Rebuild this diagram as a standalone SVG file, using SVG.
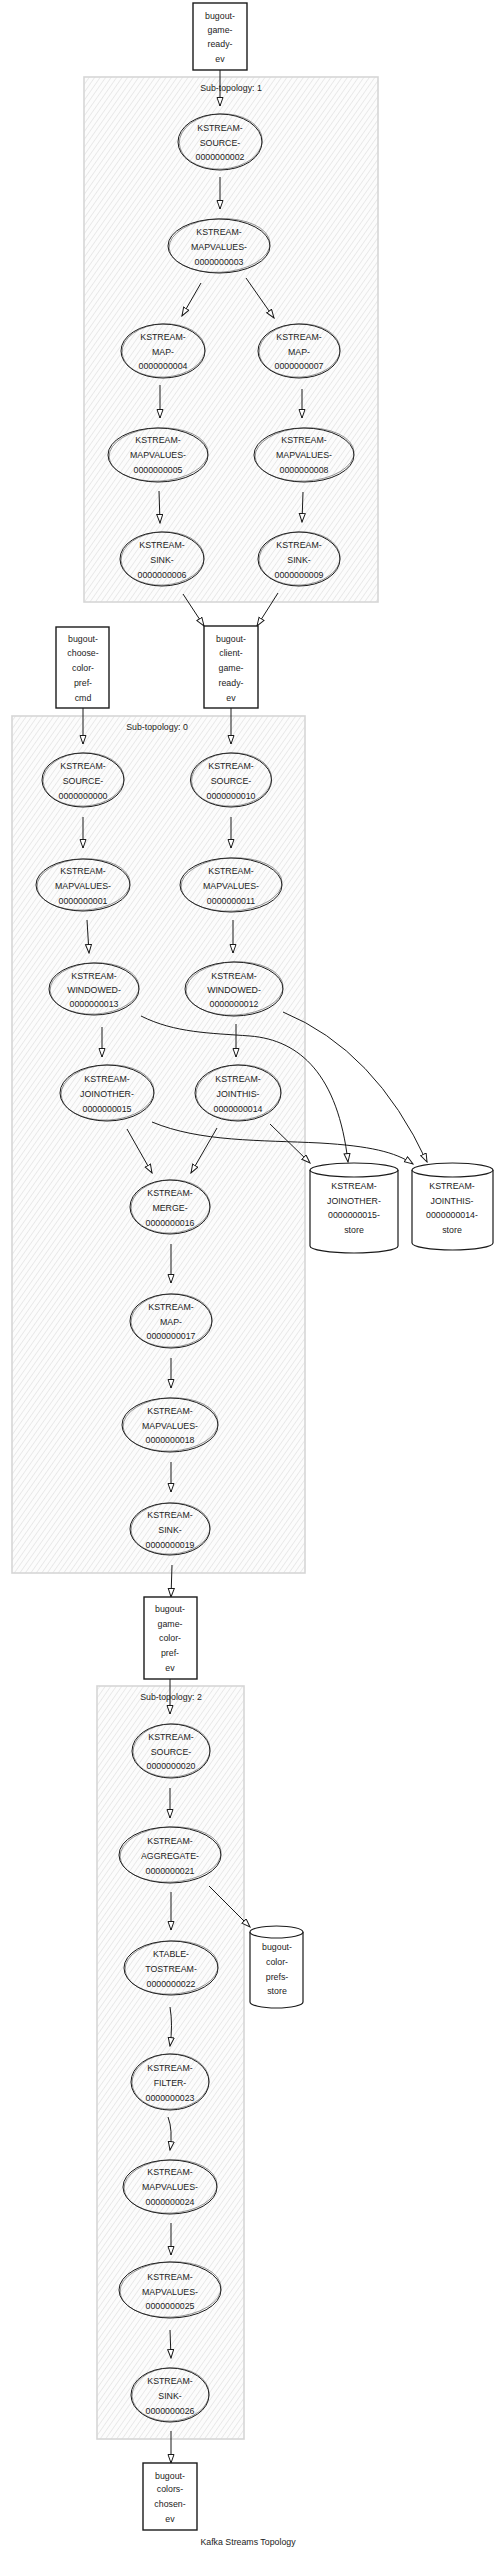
<svg xmlns="http://www.w3.org/2000/svg" width="496" height="2555" viewBox="0 0 496 2555">
<style>
text{font-family:"Liberation Sans",Arial,sans-serif;font-size:8.8px;fill:#222;text-anchor:middle}
.cl{fill:url(#hatch);stroke:#d6d6d6;stroke-width:1.6}
.e1{fill:none;stroke:#1a1a1a;stroke-width:1}
.e2{fill:none;stroke:#333;stroke-width:0.5}
.bx{fill:#fff;stroke:#1a1a1a;stroke-width:1.4}
.cy{fill:#fff;stroke:#1a1a1a;stroke-width:1.2}
.ed{fill:none;stroke:#1a1a1a;stroke-width:1;marker-end:url(#ah)}
</style>
<defs>
<pattern id="hatch" width="4.5" height="4.5" patternUnits="userSpaceOnUse" patternTransform="rotate(35)">
<rect width="4.5" height="4.5" fill="#fcfcfc"/>
<line x1="0" y1="0" x2="0" y2="4.5" stroke="#c8c8c8" stroke-width="0.7"/>
</pattern>
<marker id="ah" markerWidth="10" markerHeight="8" refX="9" refY="3.5" orient="auto" markerUnits="userSpaceOnUse">
<path d="M0.5,0.5 L9,3.5 L0.5,6.5 Z" fill="#fff" stroke="#1a1a1a" stroke-width="1"/>
</marker>
</defs>
<rect width="496" height="2555" fill="#fff"/>

<g id="cluster1"><rect class="cl" x="84" y="77" width="294" height="525"/><text x="231" y="91">Sub-topology: 1</text></g>
<g id="cluster0"><rect class="cl" x="12" y="716" width="293" height="857"/><text x="157" y="730">Sub-topology: 0</text></g>
<g id="cluster2"><rect class="cl" x="97" y="1686" width="147" height="753"/><text x="171" y="1700">Sub-topology: 2</text></g>

<g id="connectors">
<path class="ed" d="M220,70 L220,106"/>
<path class="ed" d="M220,177 L220,209"/>
<path class="ed" d="M201,283 L182,316"/>
<path class="ed" d="M246,278 L274,318"/>
<path class="ed" d="M160,385 L160,418"/>
<path class="ed" d="M302,389 L302,418"/>
<path class="ed" d="M159,491 L160,523"/>
<path class="ed" d="M303,492 L302,522"/>
<path class="ed" d="M183,594 L204,626"/>
<path class="ed" d="M278,593 L257,626"/>
<path class="ed" d="M83,708 L83,744"/>
<path class="ed" d="M231,708 L231,744"/>
<path class="ed" d="M83,817 L83,848"/>
<path class="ed" d="M231,817 L231,848"/>
<path class="ed" d="M87,920 L89,953"/>
<path class="ed" d="M233,920 L233,953"/>
<path class="ed" d="M102,1027 L102,1057"/>
<path class="ed" d="M236,1024 L236,1057"/>
<path class="ed" d="M141,1016 C175,1033 210,1033 250,1036 C300,1040 338,1075 348,1162"/>
<path class="ed" d="M283,1012 Q375,1050 427,1162"/>
<path class="ed" d="M127,1129 L152,1173"/>
<path class="ed" d="M217,1128 L191,1173"/>
<path class="ed" d="M152,1122 C200,1142 260,1140 320,1143 C370,1146 395,1152 413,1164"/>
<path class="ed" d="M270,1124 L310,1163"/>
<path class="ed" d="M171,1244 L171,1283"/>
<path class="ed" d="M171,1358 L171,1388"/>
<path class="ed" d="M171,1462 L171,1492"/>
<path class="ed" d="M172,1565 L171,1597"/>
<path class="ed" d="M170,1679 L170,1714"/>
<path class="ed" d="M170,1788 L170,1818"/>
<path class="ed" d="M171,1892 L171,1930"/>
<path class="ed" d="M209,1886 L250,1927"/>
<path class="ed" d="M170,2007 Q173,2025 170,2046"/>
<path class="ed" d="M168,2117 Q173,2130 170,2150"/>
<path class="ed" d="M171,2223 L171,2255"/>
<path class="ed" d="M170,2330 L171,2358"/>
<path class="ed" d="M171,2431 L171,2463"/>
</g>

<g id="t-game-ready"><rect class="bx" x="193" y="3" width="54" height="67"/><text x="220" y="19">bugout-</text><text x="220" y="33">game-</text><text x="220" y="47">ready-</text><text x="220" y="62">ev</text></g>
<g id="t-client-game-ready"><rect class="bx" x="204" y="626" width="54" height="82"/><text x="231" y="642">bugout-</text><text x="231" y="656">client-</text><text x="231" y="671">game-</text><text x="231" y="686">ready-</text><text x="231" y="701">ev</text></g>
<g id="t-choose-color"><rect class="bx" x="56" y="627" width="53" height="81"/><text x="83" y="642">bugout-</text><text x="83" y="656">choose-</text><text x="83" y="671">color-</text><text x="83" y="686">pref-</text><text x="83" y="701">cmd</text></g>
<g id="t-game-color-pref"><rect class="bx" x="144" y="1597" width="53" height="82"/><text x="170" y="1612">bugout-</text><text x="170" y="1627">game-</text><text x="170" y="1641">color-</text><text x="170" y="1656">pref-</text><text x="170" y="1671">ev</text></g>
<g id="t-colors-chosen"><rect class="bx" x="143" y="2463" width="54" height="67"/><text x="170" y="2479">bugout-</text><text x="170" y="2492">colors-</text><text x="170" y="2507">chosen-</text><text x="170" y="2522">ev</text></g>

<g id="n-source-2"><ellipse class="e1" cx="220" cy="142" rx="42" ry="28"/><ellipse class="e2" cx="220.8" cy="141.5" rx="41.5" ry="27.6" transform="rotate(-3 220 142)"/><text x="220" y="131">KSTREAM-</text><text x="220" y="145.5">SOURCE-</text><text x="220" y="160">0000000002</text></g>
<g id="n-mapvalues-3"><ellipse class="e1" cx="219" cy="246" rx="51" ry="27"/><ellipse class="e2" cx="219.6" cy="245.5" rx="50.5" ry="26.8" transform="rotate(-3 219 246)"/><text x="219" y="235">KSTREAM-</text><text x="219" y="250">MAPVALUES-</text><text x="219" y="265">0000000003</text></g>
<g id="n-map-4"><ellipse class="e1" cx="163" cy="351" rx="42" ry="27"/><ellipse class="e2" cx="163.6" cy="350.5" rx="41.5" ry="26.6" transform="rotate(-3 163 351)"/><text x="163" y="340">KSTREAM-</text><text x="163" y="355">MAP-</text><text x="163" y="369">0000000004</text></g>
<g id="n-map-7"><ellipse class="e1" cx="299" cy="351" rx="41" ry="27"/><ellipse class="e2" cx="299.6" cy="350.5" rx="40.5" ry="26.6" transform="rotate(-3 299 351)"/><text x="299" y="340">KSTREAM-</text><text x="299" y="355">MAP-</text><text x="299" y="369">0000000007</text></g>
<g id="n-mapvalues-5"><ellipse class="e1" cx="158" cy="455" rx="50" ry="27"/><ellipse class="e2" cx="158.6" cy="454.5" rx="49.5" ry="26.6" transform="rotate(-3 158 455)"/><text x="158" y="443">KSTREAM-</text><text x="158" y="458">MAPVALUES-</text><text x="158" y="473">0000000005</text></g>
<g id="n-mapvalues-8"><ellipse class="e1" cx="304" cy="455" rx="50" ry="27"/><ellipse class="e2" cx="304.6" cy="454.5" rx="49.5" ry="26.6" transform="rotate(-3 304 455)"/><text x="304" y="443">KSTREAM-</text><text x="304" y="458">MAPVALUES-</text><text x="304" y="473">0000000008</text></g>
<g id="n-sink-6"><ellipse class="e1" cx="162" cy="559" rx="42" ry="27"/><ellipse class="e2" cx="162.6" cy="558.5" rx="41.5" ry="26.6" transform="rotate(-3 162 559)"/><text x="162" y="548">KSTREAM-</text><text x="162" y="563">SINK-</text><text x="162" y="578">0000000006</text></g>
<g id="n-sink-9"><ellipse class="e1" cx="299" cy="559" rx="41" ry="27"/><ellipse class="e2" cx="299.6" cy="558.5" rx="40.5" ry="26.6" transform="rotate(-3 299 559)"/><text x="299" y="548">KSTREAM-</text><text x="299" y="563">SINK-</text><text x="299" y="578">0000000009</text></g>

<g id="n-source-0"><ellipse class="e1" cx="83" cy="780" rx="41" ry="27"/><ellipse class="e2" cx="83.6" cy="779.5" rx="40.5" ry="26.6" transform="rotate(-3 83 780)"/><text x="83" y="769">KSTREAM-</text><text x="83" y="784">SOURCE-</text><text x="83" y="799">0000000000</text></g>
<g id="n-source-10"><ellipse class="e1" cx="231" cy="780" rx="40.5" ry="27"/><ellipse class="e2" cx="231.6" cy="779.5" rx="40" ry="26.6" transform="rotate(-3 231 780)"/><text x="231" y="769">KSTREAM-</text><text x="231" y="784">SOURCE-</text><text x="231" y="799">0000000010</text></g>
<g id="n-mapvalues-1"><ellipse class="e1" cx="83" cy="885" rx="47" ry="26"/><ellipse class="e2" cx="83.6" cy="884.5" rx="46.5" ry="25.6" transform="rotate(-3 83 885)"/><text x="83" y="874">KSTREAM-</text><text x="83" y="889">MAPVALUES-</text><text x="83" y="904">0000000001</text></g>
<g id="n-mapvalues-11"><ellipse class="e1" cx="231" cy="885" rx="51" ry="27"/><ellipse class="e2" cx="231.6" cy="884.5" rx="50.5" ry="26.6" transform="rotate(-3 231 885)"/><text x="231" y="874">KSTREAM-</text><text x="231" y="889">MAPVALUES-</text><text x="231" y="904">0000000011</text></g>
<g id="n-windowed-13"><ellipse class="e1" cx="94" cy="989" rx="45" ry="26"/><ellipse class="e2" cx="94.6" cy="988.5" rx="44.5" ry="25.6" transform="rotate(-3 94 989)"/><text x="94" y="979">KSTREAM-</text><text x="94" y="993">WINDOWED-</text><text x="94" y="1007">0000000013</text></g>
<g id="n-windowed-12"><ellipse class="e1" cx="234" cy="989" rx="49" ry="27"/><ellipse class="e2" cx="234.6" cy="988.5" rx="48.5" ry="26.6" transform="rotate(-3 234 989)"/><text x="234" y="979">KSTREAM-</text><text x="234" y="993">WINDOWED-</text><text x="234" y="1007">0000000012</text></g>
<g id="n-joinother-15"><ellipse class="e1" cx="107" cy="1093" rx="47" ry="28"/><ellipse class="e2" cx="107.6" cy="1092.5" rx="46.5" ry="27.6" transform="rotate(-3 107 1093)"/><text x="107" y="1082">KSTREAM-</text><text x="107" y="1097">JOINOTHER-</text><text x="107" y="1112">0000000015</text></g>
<g id="n-jointhis-14"><ellipse class="e1" cx="238" cy="1093" rx="43" ry="28"/><ellipse class="e2" cx="238.6" cy="1092.5" rx="42.5" ry="27.6" transform="rotate(-3 238 1093)"/><text x="238" y="1082">KSTREAM-</text><text x="238" y="1097">JOINTHIS-</text><text x="238" y="1112">0000000014</text></g>
<g id="n-merge-16"><ellipse class="e1" cx="170" cy="1207" rx="40" ry="27"/><ellipse class="e2" cx="170.6" cy="1206.5" rx="39.5" ry="26.6" transform="rotate(-3 170 1207)"/><text x="170" y="1196">KSTREAM-</text><text x="170" y="1211">MERGE-</text><text x="170" y="1226">0000000016</text></g>
<g id="n-map-17"><ellipse class="e1" cx="171" cy="1321" rx="41" ry="27"/><ellipse class="e2" cx="171.6" cy="1320.5" rx="40.5" ry="26.6" transform="rotate(-3 171 1321)"/><text x="171" y="1310">KSTREAM-</text><text x="171" y="1325">MAP-</text><text x="171" y="1339">0000000017</text></g>
<g id="n-mapvalues-18"><ellipse class="e1" cx="170" cy="1425" rx="48" ry="27"/><ellipse class="e2" cx="170.6" cy="1424.5" rx="47.5" ry="26.6" transform="rotate(-3 170 1425)"/><text x="170" y="1414">KSTREAM-</text><text x="170" y="1429">MAPVALUES-</text><text x="170" y="1443">0000000018</text></g>
<g id="n-sink-19"><ellipse class="e1" cx="170" cy="1529" rx="40" ry="26"/><ellipse class="e2" cx="170.6" cy="1528.5" rx="39.5" ry="25.6" transform="rotate(-3 170 1529)"/><text x="170" y="1518">KSTREAM-</text><text x="170" y="1533">SINK-</text><text x="170" y="1548">0000000019</text></g>

<g id="s-joinother-15-store"><path class="cy" d="M310,1170 A44,7 0 0 1 398,1170 V1246 A44,7 0 0 1 310,1246 Z"/><path class="cy" fill="none" d="M310,1170 A44,7 0 0 0 398,1170"/><text x="354" y="1189">KSTREAM-</text><text x="354" y="1204">JOINOTHER-</text><text x="354" y="1218">0000000015-</text><text x="354" y="1233">store</text></g>
<g id="s-jointhis-14-store"><path class="cy" d="M412,1170 A40.5,7 0 0 1 493,1170 V1243 A40.5,7 0 0 1 412,1243 Z"/><path class="cy" fill="none" d="M412,1170 A40.5,7 0 0 0 493,1170"/><text x="452" y="1189">KSTREAM-</text><text x="452" y="1204">JOINTHIS-</text><text x="452" y="1218">0000000014-</text><text x="452" y="1233">store</text></g>

<g id="n-source-20"><ellipse class="e1" cx="171" cy="1751" rx="39" ry="27"/><ellipse class="e2" cx="171.6" cy="1750.5" rx="38.5" ry="26.6" transform="rotate(-3 171 1751)"/><text x="171" y="1740">KSTREAM-</text><text x="171" y="1755">SOURCE-</text><text x="171" y="1769">0000000020</text></g>
<g id="n-aggregate-21"><ellipse class="e1" cx="170" cy="1855" rx="51" ry="28"/><ellipse class="e2" cx="170.6" cy="1854.5" rx="50.5" ry="27.6" transform="rotate(-3 170 1855)"/><text x="170" y="1844">KSTREAM-</text><text x="170" y="1859">AGGREGATE-</text><text x="170" y="1874">0000000021</text></g>
<g id="n-ktable-tostream-22"><ellipse class="e1" cx="171" cy="1968" rx="47" ry="27"/><ellipse class="e2" cx="171.6" cy="1967.5" rx="46.5" ry="26.6" transform="rotate(-3 171 1968)"/><text x="171" y="1957">KTABLE-</text><text x="171" y="1972">TOSTREAM-</text><text x="171" y="1987">0000000022</text></g>
<g id="n-filter-23"><ellipse class="e1" cx="170" cy="2082" rx="39" ry="28"/><ellipse class="e2" cx="170.6" cy="2081.5" rx="38.5" ry="27.6" transform="rotate(-3 170 2082)"/><text x="170" y="2071">KSTREAM-</text><text x="170" y="2086">FILTER-</text><text x="170" y="2101">0000000023</text></g>
<g id="n-mapvalues-24"><ellipse class="e1" cx="170" cy="2187" rx="47" ry="27"/><ellipse class="e2" cx="170.6" cy="2186.5" rx="46.5" ry="26.6" transform="rotate(-3 170 2187)"/><text x="170" y="2175">KSTREAM-</text><text x="170" y="2190">MAPVALUES-</text><text x="170" y="2205">0000000024</text></g>
<g id="n-mapvalues-25"><ellipse class="e1" cx="170" cy="2290" rx="51" ry="28"/><ellipse class="e2" cx="170.6" cy="2289.5" rx="50.5" ry="27.6" transform="rotate(-3 170 2290)"/><text x="170" y="2280">KSTREAM-</text><text x="170" y="2295">MAPVALUES-</text><text x="170" y="2309">0000000025</text></g>
<g id="n-sink-26"><ellipse class="e1" cx="170" cy="2395" rx="39" ry="27"/><ellipse class="e2" cx="170.6" cy="2394.5" rx="38.5" ry="26.6" transform="rotate(-3 170 2395)"/><text x="170" y="2384">KSTREAM-</text><text x="170" y="2399">SINK-</text><text x="170" y="2414">0000000026</text></g>

<g id="s-color-prefs-store"><path class="cy" d="M250,1932 A26.5,6 0 0 1 303,1932 V2002 A26.5,6 0 0 1 250,2002 Z"/><path class="cy" fill="none" d="M250,1932 A26.5,6 0 0 0 303,1932"/><text x="277" y="1950">bugout-</text><text x="277" y="1965">color-</text><text x="277" y="1980">prefs-</text><text x="277" y="1994">store</text></g>

<text id="title" x="248" y="2545">Kafka Streams Topology</text>
</svg>
